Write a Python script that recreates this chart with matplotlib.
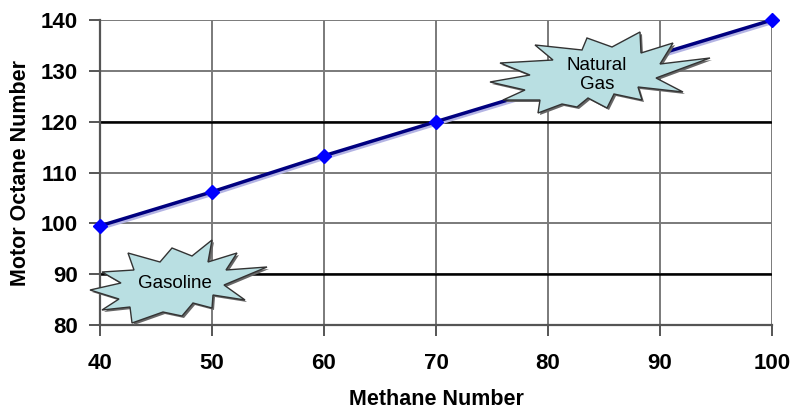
import matplotlib.pyplot as plt
from matplotlib.patches import Polygon
from matplotlib.transforms import ScaledTranslation

plt.rcParams['font.family'] = ['Liberation Sans', 'DejaVu Sans']

# methane number vs motor octane number
methane = [40, 50, 60, 70, 100]
octane = [99.5, 106.2, 113.3, 120.0, 140.0]
x_ticks = [40, 50, 60, 70, 80, 90, 100]
y_ticks = [80, 90, 100, 110, 120, 130, 140]

W, H = 793, 411
fig = plt.figure(figsize=(W / 100, H / 100), dpi=100)
ax = fig.add_axes([100 / W, 1 - 325 / H, 672 / W, 305 / H])

ax.set_xlim(40, 100)
ax.set_ylim(80, 140)
ax.set_xticks(x_ticks)
ax.set_yticks(y_ticks)
ax.grid(True, color='#7a7a7a', linewidth=1.4)
for yy in (90, 120):
    ax.axhline(yy, color='black', linewidth=1.8, zorder=1)
ax.set_axisbelow(True)
for s in ('top', 'right'):
    ax.spines[s].set_visible(False)
for s in ('left', 'bottom'):
    ax.spines[s].set_color('#555555')
    ax.spines[s].set_linewidth(1.6)
ax.tick_params(length=8, width=1.4, color='#555555', labelsize=16)
ax.tick_params(axis='x', pad=12)
ax.tick_params(axis='y', pad=8)
for lab in ax.get_xticklabels() + ax.get_yticklabels():
    lab.set_fontweight('bold')

# faint shadow under the line, then the line itself
shift = ScaledTranslation(1 / 100, -1.5 / 100, fig.dpi_scale_trans)
ax.plot(methane, octane, color='#b4b4e4', linewidth=3.5, zorder=2, clip_on=False,
        transform=ax.transData + shift)
ax.plot(methane, octane, color='#000080', linewidth=2.5, marker='D', markersize=7,
        markerfacecolor='#0000ff', markeredgecolor='#0000ff', zorder=3, clip_on=False)

ax.set_xlabel('Methane Number', fontsize=15.5, fontweight='bold', labelpad=11)
ax.set_ylabel('Motor Octane Number', fontsize=15.5, fontweight='bold', labelpad=7)


def burst(pts, label, cx, cy):
    pts = [(x / W, 1 - y / H) for x, y in pts]
    shadow = [(x + 2 / W, y - 2 / H) for x, y in pts]
    ax.add_patch(Polygon(shadow, closed=True, transform=fig.transFigure,
                         facecolor='#666666', edgecolor='none', zorder=4, clip_on=False))
    ax.add_patch(Polygon(pts, closed=True, transform=fig.transFigure,
                         facecolor='#b9dfe2', edgecolor='#333333', linewidth=1.0,
                         zorder=5, clip_on=False))
    fig.text(cx / W, 1 - cy / H, label, ha='center', va='center', fontsize=13.5,
             linespacing=1.15, zorder=6)


gasoline_shape = [(212, 240), (208, 262), (237, 253), (226, 270), (267, 267), (224, 285),
                  (245, 300), (213, 295), (212, 308), (193, 303), (182, 316), (163, 312),
                  (132, 323), (130, 307), (102, 310), (119, 299), (90, 290), (121, 283),
                  (102, 272), (134, 270), (128, 253), (160, 262), (172, 248), (192, 256)]
gas_shape = [(640, 32), (612, 47), (587, 38), (582, 50), (535, 45), (553, 60), (500, 63),
             (530, 75), (490, 82), (525, 90), (503, 100), (540, 100), (538, 113),
             (562, 104), (577, 107), (588, 98), (607, 108), (614, 94), (642, 100),
             (638, 87), (683, 92), (656, 78), (710, 58), (660, 64), (673, 43), (641, 53)]

burst(gasoline_shape, 'Gasoline', 175, 283)
burst(gas_shape, 'Natural\nGas', 597, 75)

fig.savefig('out.png', dpi=100)
